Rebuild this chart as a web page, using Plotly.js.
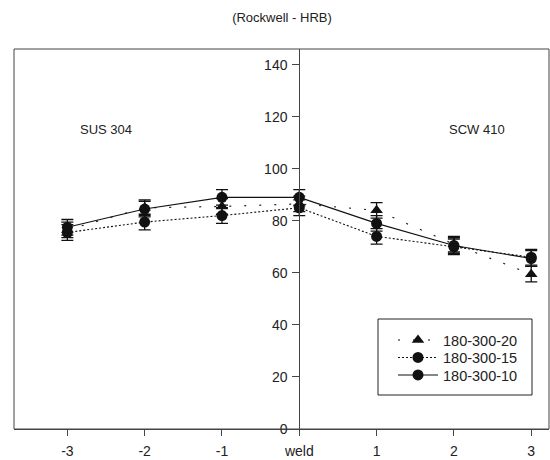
<!DOCTYPE html>
<html>
<head>
<meta charset="utf-8">
<script src="https://cdn.plot.ly/plotly-3.0.1.min.js"></script>
<style>html,body{margin:0;padding:0;background:#fff;}#chart{width:550px;height:460px;}</style>
</head>
<body>
<div id="chart"></div>
<script>
const categories = ["-3", "-2", "-1", "weld", "1", "2", "3"];
const seriesNames = ["180-300-20", "180-300-15", "180-300-10"];
const s20 = [76.5, 85.0, 85.5, 86.5, 84.0, 71.0, 59.5];
const s15 = [75.5, 79.5, 82.0, 85.0, 74.0, 70.0, 66.0];
const s10 = [77.5, 84.5, 89.0, 89.0, 79.0, 70.5, 65.5];
const e20 = [3, 3, 3, 3, 3, 3, 3];
const e15 = [3, 3, 3, 3, 3, 3, 3];
const e10 = [3, 3, 3, 3, 3, 3, 3];
const titleText = "(Rockwell - HRB)";
const regionLabels = ["SUS 304", "SCW 410"];

const ink = "#111";
const xr = [-0.69, 6.23];
const yPos = (3 - xr[0]) / (xr[1] - xr[0]);
const W = 535, H = 380, L = 14, T = 49;
const px = v => (v - L) / W;
const py = v => 1 - (v - T) / H;

function tr(name, y, err, sym, dash, lg) {
  return {
    type: "scatter", mode: "lines+markers", x: categories, y: y, name: name, legend: lg,
    line: {color: ink, width: 1.1, dash: dash},
    marker: {symbol: sym, size: 11, color: ink},
    error_y: {type: "data", array: err, visible: true, color: ink, thickness: 1.3, width: 6}
  };
}

const data = [
  tr(seriesNames[0], s20, e20, "triangle-up", "2px,13px", "legend"),
  tr(seriesNames[1], s15, e15, "circle", "2px,2px", "legend2"),
  tr(seriesNames[2], s10, e10, "circle", "solid", "legend3")
];

function lg(rowY) {
  return {x: px(393), y: py(rowY), xanchor: "left", yanchor: "middle", itemwidth: 40,
          borderwidth: 0, bgcolor: "rgba(0,0,0,0)", font: {size: 14.5, color: "#222"}};
}

const layout = {
  width: 550, height: 460,
  margin: {l: 14, r: 1, t: 49, b: 31},
  paper_bgcolor: "#fff", plot_bgcolor: "#fff",
  font: {family: "Liberation Sans, Arial, sans-serif", color: "#222", size: 14},
  title: {text: titleText, font: {size: 13, color: "#222"}, x: 282/550, xref: "container", xanchor: "center", y: 1 - 17/460, yref: "container", yanchor: "middle"},
  showlegend: true,
  legend: lg(340),
  legend2: lg(357.5),
  legend3: lg(375),
  xaxis: {type: "category", range: xr, showgrid: false, zeroline: false, showline: true, linecolor: "#444", linewidth: 1,
          ticks: "outside", ticklen: 6, tickcolor: "#444", tickfont: {size: 14}, ticklabelstandoff: 3},
  yaxis: {range: [0, 146], anchor: "free", position: yPos, side: "left", showgrid: false, zeroline: false,
          showline: true, linecolor: "#444", linewidth: 1, ticks: "outside", ticklen: 7, tickcolor: "#444",
          tickvals: [0, 20, 40, 60, 80, 100, 120, 140], tickfont: {size: 14}, ticklabelstandoff: 2},
  shapes: [
    {type: "rect", xref: "paper", yref: "paper", x0: 0, x1: 1, y0: 0, y1: 1, line: {color: "#444", width: 1}},
    {type: "rect", xref: "paper", yref: "paper", x0: px(378), x1: px(532), y0: py(395), y1: py(319), line: {color: "#222", width: 1}, layer: "above"}
  ],
  annotations: [
    {text: regionLabels[0], x: 0.5, y: 115, xref: "x", yref: "y", showarrow: false, font: {size: 13, color: "#222"}},
    {text: regionLabels[1], x: 5.3, y: 115, xref: "x", yref: "y", showarrow: false, font: {size: 13, color: "#222"}}
  ]
};

Plotly.newPlot("chart", data, layout, {displayModeBar: false, staticPlot: true});
</script>
</body>
</html>
